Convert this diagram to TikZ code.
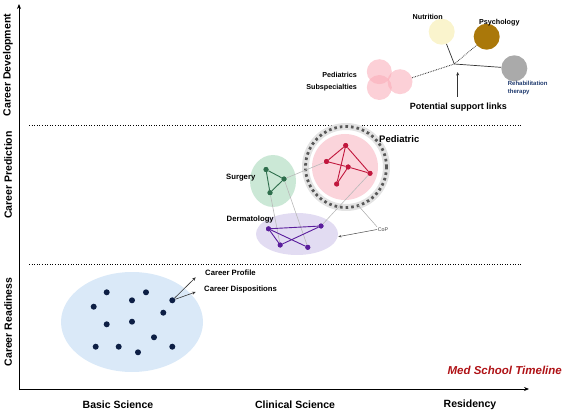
\documentclass[tikz,border=0pt]{standalone}
\usepackage{fontspec}
\setmainfont{Liberation Sans}
\usetikzlibrary{arrows.meta}
\definecolor{dotblue}{RGB}{13,31,69}
\definecolor{bigblue}{RGB}{218,233,248}
\definecolor{surgfill}{RGB}{203,232,214}
\definecolor{surgnode}{RGB}{46,110,76}
\definecolor{pedfill}{RGB}{251,212,219}
\definecolor{pednode}{RGB}{193,23,61}
\definecolor{dermfill}{RGB}{226,220,242}
\definecolor{dermnode}{RGB}{90,29,156}
\definecolor{nutcol}{RGB}{250,244,205}
\definecolor{psycol}{RGB}{170,120,10}
\definecolor{rehcol}{RGB}{170,170,170}
\definecolor{rehtext}{RGB}{31,58,110}
\definecolor{subpink}{RGB}{250,170,182}
\definecolor{medred}{RGB}{175,18,22}
\tikzset{
  lbl/.style={font=\bfseries\fontsize{7.7}{9}\selectfont, inner sep=0pt},
  axislbl/.style={font=\bfseries\fontsize{10.5}{12}\selectfont, inner sep=0pt},
  bdot/.style={circle, fill=dotblue, inner sep=0pt, minimum size=6pt},
  netnode/.style={circle, inner sep=0pt, minimum size=5pt},
  gnode/.style={netnode, fill=surgnode},
  rnode/.style={netnode, fill=pednode},
  pnode/.style={netnode, fill=dermnode},
  gedge/.style={surgnode, line width=0.9pt},
  redge/.style={pednode, line width=0.9pt},
  pedge/.style={dermnode, line width=0.9pt},
  link/.style={gray!55, line width=0.6pt},
  sep/.style={black, dotted, line width=0.6pt},
  axisarrow/.style={black, line width=0.9pt, -{Stealth[length=5pt,width=4pt]}},
  thinarrow/.style={black!80, line width=0.6pt, -{Stealth[length=3.5pt,width=3pt]}},
  supline/.style={black!80, line width=0.7pt},
  subcircle/.style={circle, fill=subpink, fill opacity=0.55, inner sep=0pt, minimum size=25pt},
  bigcircle/.style={circle, inner sep=0pt, minimum size=26pt},
}
\begin{document}
\begin{tikzpicture}[x=1pt,y=-1pt]
\useasboundingbox (0,0) rectangle (566,412);
% separators
\draw[sep] (29,125) -- (522,125);
\draw[sep] (29,264) -- (522,264);
% axes
\coordinate (origin) at (19,390);
\coordinate (ytop) at (19,4);
\coordinate (xend) at (529,389);
\draw[axisarrow] (origin) -- (ytop);
\draw[axisarrow] (19,389) -- (xend);
% axis labels
\node[axislbl, rotate=90] (ydev) at (8,65) {Career Development};
\node[axislbl, rotate=90] (ypred) at (8,175) {Career Prediction};
\node[axislbl, rotate=90] (yread) at (8,322) {Career Readiness};
\node[axislbl] (xbasic) at (118,405) {Basic Science};
\node[axislbl] (xclin) at (295,405) {Clinical Science};
\node[axislbl] (xres) at (470,405) {Residency};
\node[font=\bfseries\itshape\fontsize{11.5}{13}\selectfont, text=medred, anchor=east, inner sep=0pt] (timeline) at (562,370) {Med School Timeline};
% ---------- Career readiness ----------
\fill[bigblue] (132,322) ellipse [x radius=71pt, y radius=50pt];
\node[bdot] (b1) at (106.7,292.3) {};
\node[bdot] (b2) at (146,292.3) {};
\node[bdot] (b3) at (132,300.3) {};
\node[bdot] (b4) at (172.3,300.3) {};
\node[bdot] (b5) at (93.7,306.7) {};
\node[bdot] (b6) at (163.3,312.7) {};
\node[bdot] (b7) at (106.7,324.3) {};
\node[bdot] (b8) at (132,321.7) {};
\node[bdot] (b9) at (154,337.3) {};
\node[bdot] (b10) at (95.7,346.7) {};
\node[bdot] (b11) at (118.7,346.7) {};
\node[bdot] (b12) at (172.3,346.7) {};
\node[bdot] (b13) at (138,352.3) {};
\coordinate (cpend) at (195.7,277.3);
\coordinate (cdend) at (195.7,292);
\draw[thinarrow] (b4) -- (cpend);
\draw[thinarrow] (b4) -- (cdend);
\node[lbl, anchor=west] (cprof) at (205,273) {Career Profile};
\node[lbl, anchor=west] (cdisp) at (204,289.5) {Career Dispositions};
% ---------- Career prediction ----------
\fill[surgfill] (273,181) ellipse [x radius=23pt, y radius=26pt];
\fill[dermfill] (297,234) ellipse [x radius=41pt, y radius=21pt];
\draw[gray!22, line width=7pt] (346,167) circle[radius=40.5pt];
\draw[black!65, line width=2.8pt, dash pattern=on 2.6pt off 3pt] (346,167) circle[radius=40.5pt];
\fill[pedfill] (345,167) circle[radius=33pt];
% surgery
\node[gnode] (s1) at (266,169.5) {};
\node[gnode] (s2) at (284,179) {};
\node[gnode] (s3) at (270,192.7) {};
% pediatric
\node[rnode] (p1) at (345.7,145.5) {};
\node[rnode] (p2) at (326.5,161.5) {};
\node[rnode] (p3) at (348.2,167) {};
\node[rnode] (p4) at (370,173.3) {};
\node[rnode] (p5) at (336.7,184) {};
% dermatology
\node[pnode] (d1) at (268.5,228.8) {};
\node[pnode] (d2) at (321,226) {};
\node[pnode] (d3) at (280.2,245) {};
\node[pnode] (d4) at (307.8,247.3) {};
% links between groups
\draw[link] (s2) -- (p2);
\draw[link] (s3) -- (d3);
\draw[link] (s2) -- (d4);
\draw[link] (p4) -- (d2);
% intra edges
\draw[gedge] (s1) -- (s2) -- (s3) -- (s1);
\draw[redge] (p1) -- (p2);
\draw[redge] (p1) -- (p4);
\draw[redge] (p2) -- (p3) -- (p4);
\draw[redge] (p1) -- (p5);
\draw[redge] (p3) -- (p5);
\draw[pedge] (d1) -- (d2);
\draw[pedge] (d1) -- (d4);
\draw[pedge] (d1) -- (d3);
\draw[pedge] (d3) -- (d2);
% redraw nodes on top
\node[gnode] at (s1) {};\node[gnode] at (s2) {};\node[gnode] at (s3) {};
\node[rnode] at (p1) {};\node[rnode] at (p2) {};\node[rnode] at (p3) {};\node[rnode] at (p4) {};\node[rnode] at (p5) {};
\node[pnode] at (d1) {};\node[pnode] at (d2) {};\node[pnode] at (d3) {};\node[pnode] at (d4) {};
% labels
\node[font=\bfseries\fontsize{9.5}{11}\selectfont, inner sep=0pt, anchor=west] (pedl) at (379,139.3) {Pediatric};
\node[lbl, anchor=east] (surgl) at (255.5,177.7) {Surgery};
\node[lbl, anchor=west] (derml) at (226.5,220) {Dermatology};
% CoP
\node[font=\fontsize{5.3}{6}\selectfont, text=black!75, inner sep=0.6pt] (cop) at (383,229.5) {CoP};
\coordinate (ringpt) at (357.8,205);
\coordinate (dermpt) at (338.3,236.7);
\draw[gray!70, line width=0.5pt] (cop.north west) -- (ringpt);
\draw[gray!70, line width=0.5pt, -{Stealth[length=3pt,width=2.5pt]}, black!70] (cop.west) -- (dermpt);
% ---------- Career development ----------
\node[subcircle] (pc1) at (379.3,71.7) {};
\node[subcircle] (pc2) at (379.3,87.5) {};
\node[subcircle] (pc3) at (400,81.7) {};
\node[bigcircle, fill=nutcol] (nut) at (441.7,31.7) {};
\node[bigcircle, fill=psycol] (psy) at (486.7,36.7) {};
\node[bigcircle, fill=rehcol] (reh) at (514.3,68.3) {};
\coordinate (hub) at (454.3,64);
\draw[supline, densely dotted, line width=0.9pt] (pc3) -- (hub);
\draw[supline] (hub) -- (nut);
\draw[supline, densely dotted, line width=0.8pt] (hub) -- (psy);
\draw[supline] (hub) -- (reh);
\node[lbl, font=\bfseries\fontsize{7.2}{8}\selectfont] (nutl) at (427.7,17.3) {Nutrition};
\node[lbl, font=\bfseries\fontsize{7.2}{8}\selectfont] (psyl) at (499.3,22.7) {Psychology};
\node[font=\bfseries\fontsize{6}{8}\selectfont, text=rehtext, inner sep=0pt, align=left, anchor=west] (rehl) at (507.7,88) {Rehabilitation\\ therapy};
\node[font=\bfseries\fontsize{7.2}{11.3}\selectfont, inner sep=0pt, align=right, anchor=east] (subl) at (357,81.7) {Pediatrics\\Subspecialties};
\node[font=\bfseries\fontsize{9}{11}\selectfont, inner sep=0pt] (psl) at (458.3,106.7) {Potential support links};
\coordinate (arrtip) at (457.7,72);
\coordinate (arrbase) at (457.7,97);
\draw[thinarrow] (arrbase) -- (arrtip);
\end{tikzpicture}
\end{document}
